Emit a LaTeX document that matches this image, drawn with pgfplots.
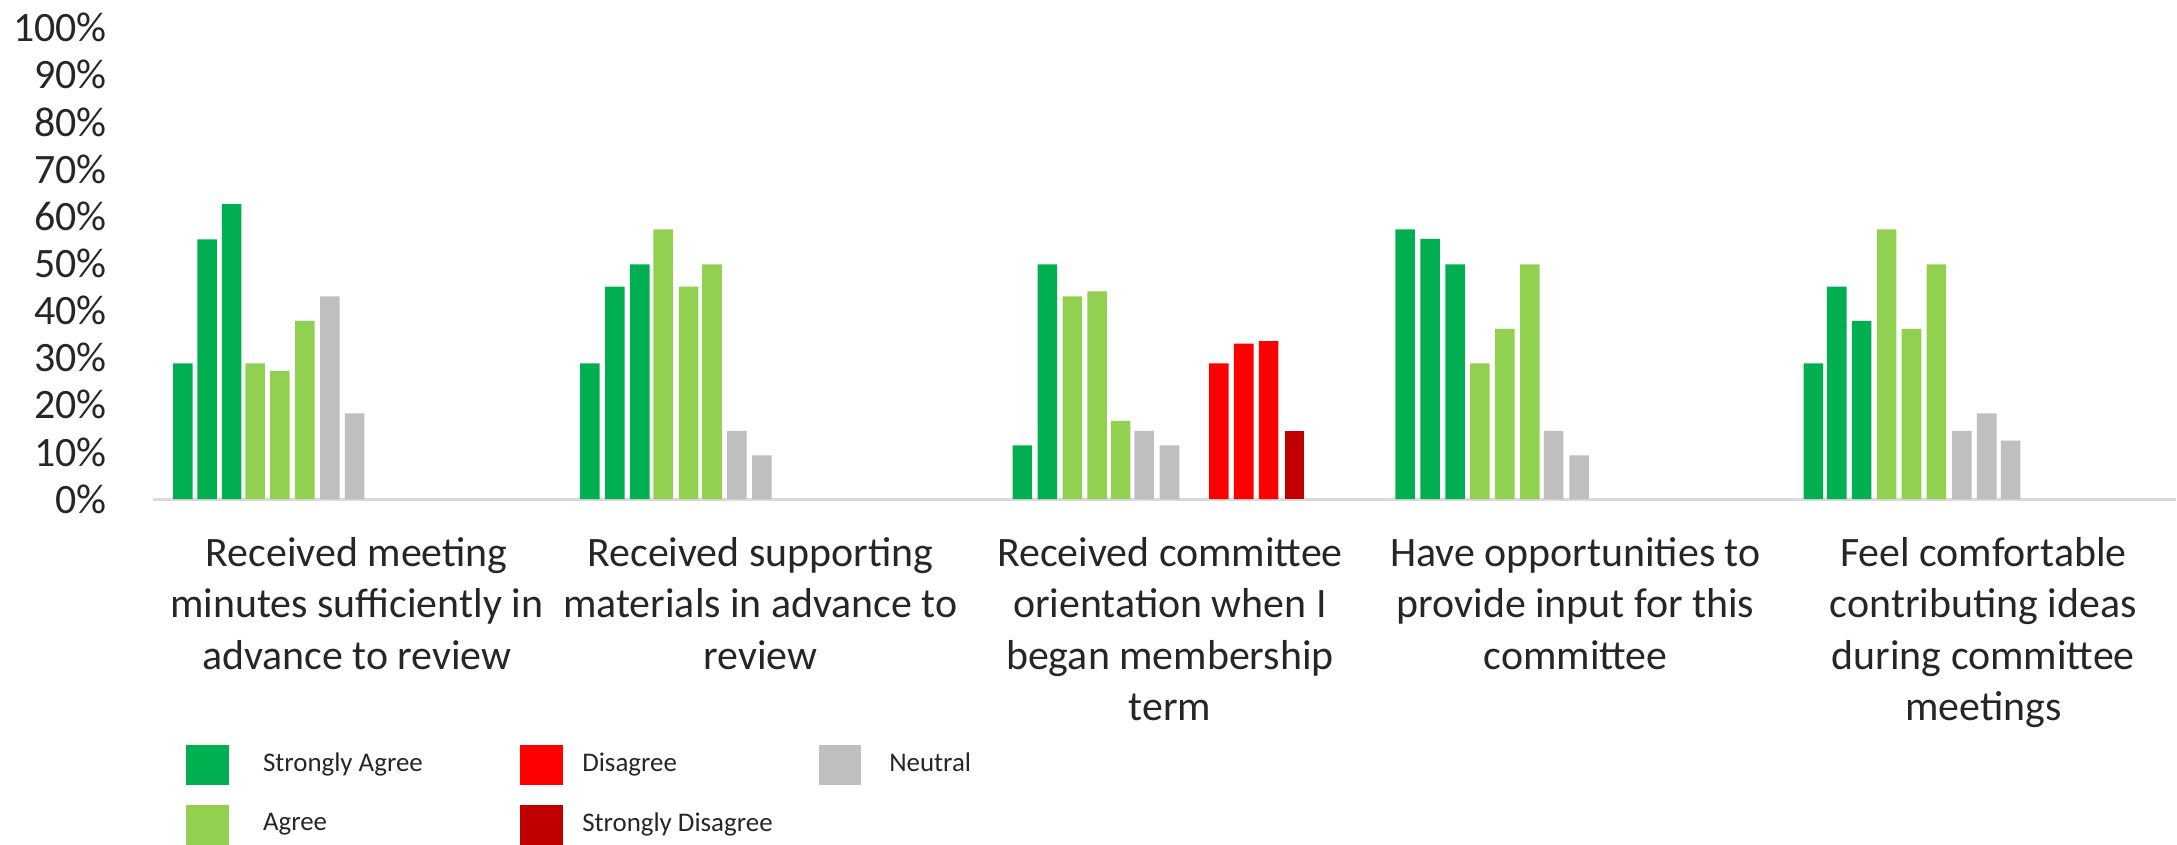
\documentclass[border=0pt]{standalone}
\usepackage{pgfplots}
\pgfplotsset{compat=1.18}
\usepackage{fontspec}
\setmainfont{Carlito}

\definecolor{sagree}{HTML}{00B050}
\definecolor{agree}{HTML}{92D050}
\definecolor{neutral}{HTML}{BFBFBF}
\definecolor{disagree}{HTML}{FF0000}
\definecolor{sdisagree}{HTML}{C00000}
\definecolor{axisgray}{HTML}{D9D9D9}
\definecolor{labelgray}{HTML}{262626}

% legend squares, with the gap before the square and before the text built in
\pgfplotsset{
    legcolA/.style={legend image code/.code={\path (0pt,-5pt) (19.25pt,5pt); \fill[##1] (0pt,-5pt) rectangle (10.75pt,5pt);}},
    legcolB/.style={legend image code/.code={\path (-24.5pt,-5pt) (15.5pt,5pt); \fill[##1] (0pt,-5pt) rectangle (10.75pt,5pt);}},
    legcolC/.style={legend image code/.code={\path (-11.5pt,-5pt) (17.75pt,5pt); \fill[##1] (0pt,-5pt) rectangle (10.75pt,5pt);}},
}

\begin{document}
\begin{tikzpicture}
\begin{axis}[
    x=0.25pt, y=1.1825pt,
    xmin=148, xmax=2177, ymin=0, ymax=100,
    enlargelimits=false,
    axis lines=left,
    axis line style={-},
    y axis line style={draw=none},
    x axis line style={draw=axisgray, line width=0.7pt},
    tick style={draw=none},
    ytick={0,10,...,100},
    yticklabels={0\%,10\%,20\%,30\%,40\%,50\%,60\%,70\%,80\%,90\%,100\%},
    yticklabel style={font=\fontsize{10.5}{12.6}\selectfont, text=labelgray, xshift=-6pt},
    xtick={352,757,1168,1575,1984},
    xticklabels={
        {Received meeting\\minutes sufficiently in\\advance to review},
        {Received supporting\\materials in advance to\\review},
        {Received committee\\orientation when I\\began membership\\term},
        {Have opportunities to\\provide input for this\\committee},
        {Feel comfortable\\contributing ideas\\during committee\\meetings}},
    xticklabel style={font=\fontsize{10.5}{12.9}\selectfont, align=center, text=labelgray, yshift=-1.8pt},
    ybar, bar width=4.9pt,
    legend columns=3,
    legend cell align=left,
    legend style={at={(axis cs:181,-52.2)}, anchor=north west, draw=none, fill=none,
        inner sep=0pt, outer sep=0pt, column sep=0pt, row sep=5pt,
        nodes={inner sep=0pt, font=\fontsize{6.75}{8}\selectfont, text=labelgray}},
]

% Strongly Agree
\addplot[fill=sagree, draw=none, bar shift=0pt, legcolA]
    coordinates {(177.5,28.8)(202,55.1)(226.5,62.6)
                 (586,28.8)(611,45.1)(636,49.8)
                 (1020,11.4)(1045,49.8)
                 (1404,57.2)(1429,55.2)(1454,49.8)
                 (1813.5,28.8)(1837,45.1)(1862,37.8)};
\addlegendentry{Strongly Agree}

% Disagree
\addplot[fill=disagree, draw=none, bar shift=0pt, legcolB]
    coordinates {(1217,28.8)(1242,33.0)(1267,33.5)};
\addlegendentry{Disagree}

% Neutral
\addplot[fill=neutral, draw=none, bar shift=0pt, legcolC]
    coordinates {(325,43.0)(350,18.2)
                 (733.5,14.5)(758.5,9.3)
                 (1142,14.5)(1167.5,11.4)
                 (1553,14.5)(1578.5,9.3)
                 (1962.5,14.5)(1987.5,18.2)(2011.5,12.4)};
\addlegendentry{Neutral}

% Agree
\addplot[fill=agree, draw=none, bar shift=0pt, legcolA]
    coordinates {(250,28.8)(275,27.2)(300,37.8)
                 (659.5,57.2)(685,45.1)(708.5,49.8)
                 (1070,43.0)(1095,44.1)(1118.5,16.6)
                 (1479,28.8)(1504,36.1)(1529,49.8)
                 (1887,57.2)(1912,36.1)(1937,49.8)};
\addlegendentry{Agree}

% Strongly Disagree
\addplot[fill=sdisagree, draw=none, bar shift=0pt, legcolB]
    coordinates {(1293,14.5)};
\addlegendentry{Strongly Disagree}

\end{axis}
\end{tikzpicture}
\end{document}
